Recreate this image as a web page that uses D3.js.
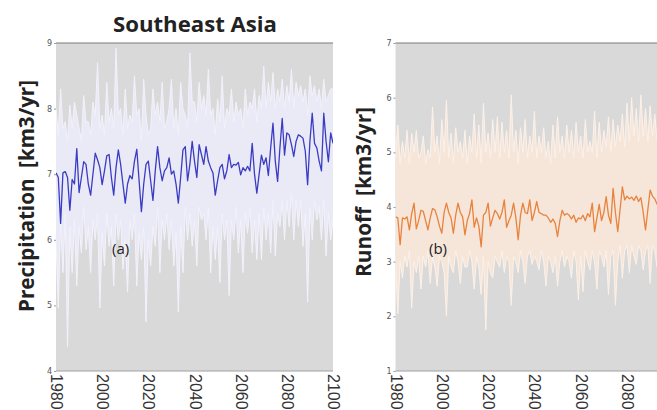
<!DOCTYPE html>
<html>
<head>
<meta charset="utf-8">
<script src="https://cdn.jsdelivr.net/npm/d3@7"></script>
<style>
  body { margin: 0; background: #fff; }
  svg { display: block; }
  text { white-space: pre; }
</style>
</head>
<body>
<div id="chart"></div>
<script>
const years = d3.range(1980, 2101)
const xTicks = [1980, 2000, 2020, 2040, 2060, 2080, 2100]
const precipTicks = [4, 5, 6, 7, 8, 9]
const runoffTicks = [1, 2, 3, 4, 5, 6, 7]

// ensemble mean, yearly 1980-2100
const precipMean = [
  7.02, 6.95, 6.25, 7.02, 7.04, 6.95, 6.45, 6.92, 6.85, 7.39,
  6.72, 6.95, 7.19, 7.15, 6.85, 6.68, 7.0, 7.32, 7.22, 7.1,
  6.84, 7.05, 7.28, 7.3, 6.95, 6.68, 7.1, 7.37, 7.15, 6.85,
  6.56, 6.85, 6.98, 6.93, 7.2, 7.38, 6.9, 6.43, 6.85, 7.15,
  7.2, 6.9, 6.6, 7.05, 7.42, 7.1, 6.9, 7.05, 7.1, 7.25,
  7.0, 7.05, 6.85, 6.56, 6.95, 7.37, 7.42, 6.9, 7.15, 7.5,
  7.2, 6.95, 7.45, 7.3, 7.15, 7.42, 7.2, 7.1, 7.02, 6.68,
  6.9, 7.1, 7.15, 6.93, 7.05, 7.3, 7.1, 7.15, 7.14, 7.18,
  6.99, 7.1, 7.05, 7.12, 7.05, 7.47, 7.0, 6.71, 7.0, 7.29,
  7.15, 7.25, 6.98, 7.4, 7.78, 7.2, 6.89, 7.4, 7.85, 7.29,
  7.63, 7.6, 7.45, 7.27, 7.5, 7.6, 7.58, 7.55, 7.35, 6.84,
  7.5, 7.93, 7.47, 7.4, 7.2, 7.05, 7.93, 7.5, 7.19, 7.63,
  7.47
]
// spread of the ensemble members (upper / lower envelope)
const precipHigh = [
  8.0, 7.6, 8.3, 7.7, 7.8, 7.5, 8.05, 7.7, 8.1, 7.9,
  7.7, 7.5, 8.2, 7.8, 7.8, 7.6, 8.1, 7.9, 8.7, 7.7,
  7.9, 7.6, 8.4, 7.8, 8.0, 7.7, 8.92, 7.9, 8.0, 7.6,
  8.3, 7.7, 7.9, 7.8, 8.5, 7.9, 8.0, 7.5, 8.45, 7.9,
  7.6, 7.7, 8.3, 7.9, 8.1, 7.8, 8.4, 7.7, 7.8, 8.0,
  8.45, 7.7, 8.0, 7.6, 8.4, 8.0, 7.9, 7.7, 8.85, 8.1,
  8.1, 7.8, 8.4, 8.0, 8.2, 7.9, 8.6, 7.9, 8.0, 7.6,
  8.15, 7.8, 8.5, 7.7, 8.0, 7.9, 8.3, 7.8, 8.1, 7.9,
  8.0, 7.7, 8.3, 7.9, 8.1, 8.0, 8.3, 7.8, 8.2, 8.0,
  8.65, 8.0, 8.4, 8.1, 8.55, 8.0, 8.3, 8.1, 8.45, 8.0,
  8.35, 8.1, 8.6, 8.0, 8.4, 8.2, 8.35, 8.1, 8.3, 7.9,
  8.5, 8.2, 8.35, 8.1, 8.3, 8.0, 8.45, 8.1, 8.2, 8.3,
  8.3
]
const precipLow = [
  6.0, 4.96, 6.3, 5.5, 6.4, 4.37, 6.2, 5.5, 6.3, 5.3,
  6.2, 5.8, 6.5, 5.85, 6.2, 5.5, 6.3, 6.0, 6.4, 4.96,
  6.1, 5.6, 6.4, 5.9, 6.2, 5.3, 6.4, 6.0, 6.3, 5.55,
  6.0, 5.2, 6.3, 6.0, 6.4, 5.3, 6.1, 5.7, 6.2, 4.75,
  6.0, 5.6, 6.2, 5.9, 6.5, 5.5, 6.3, 6.0, 6.4, 5.85,
  6.3, 5.6, 6.1, 4.9, 6.2, 5.5, 6.5, 6.0, 6.4, 5.9,
  6.3, 5.6, 6.5, 6.3, 6.4, 6.0, 6.5, 5.5, 6.2, 5.7,
  6.2, 5.35, 6.4, 6.0, 6.3, 5.15, 6.3, 6.0, 6.5, 5.8,
  6.3, 5.5, 6.4, 6.1, 6.5, 5.8, 6.3, 5.7, 6.4, 5.7,
  6.5, 6.0, 6.4, 5.8, 6.6, 5.75, 6.4, 6.2, 6.6, 6.0,
  6.6, 6.2, 6.7, 6.0, 6.6, 6.2, 6.6, 5.9, 6.4, 5.05,
  6.5, 6.0, 6.6, 6.3, 6.5, 6.0, 6.6, 5.75, 6.4, 6.0,
  6.3
]

const runoffMean = [
  3.82, 3.8, 3.31, 3.8, 3.78, 3.82, 3.58, 3.88, 4.07, 3.6,
  3.75, 3.94, 3.92, 3.75, 3.58, 3.8, 3.97, 3.95, 3.82, 3.65,
  3.52, 3.9, 4.07, 3.9, 3.8, 3.52, 3.85, 4.07, 3.9, 3.82,
  3.49, 3.75, 3.88, 4.13, 3.63, 3.8, 3.65, 3.27, 3.85, 3.9,
  4.07, 3.65, 3.8, 3.94, 3.88, 3.78, 3.9, 4.13, 3.63, 3.75,
  3.85, 4.07, 3.8, 3.4, 3.85, 4.07, 3.9, 3.88, 4.13, 3.75,
  3.9, 4.1, 3.9, 3.88, 3.85, 3.85, 3.8, 3.72, 3.78, 3.7,
  3.46, 3.75, 3.94, 3.85, 3.88, 3.85, 3.78, 3.85, 3.72, 3.8,
  3.78, 3.85, 3.75, 3.88, 3.82, 4.07, 3.55, 3.8, 4.05, 3.75,
  3.9, 4.19, 3.85, 3.7, 4.34, 3.9, 3.55, 3.95, 4.37, 4.13,
  4.2, 4.15, 4.18, 4.12, 4.2, 4.1, 4.17, 3.9, 3.58, 3.95,
  4.31, 4.2, 4.15, 4.05, 4.2, 3.9, 4.1, 4.15, 3.95, 4.1,
  4.05
]
const runoffHigh = [
  4.9, 5.5, 4.8, 5.2, 4.9, 5.4, 4.8, 5.35, 5.0, 5.4,
  4.9, 5.0, 5.3, 4.8, 5.05, 4.9, 5.83, 5.0, 5.3, 4.8,
  5.6, 5.0, 5.95, 4.9, 5.35, 4.8, 5.45, 5.0, 5.2, 4.9,
  5.4, 4.8, 5.3, 5.0, 5.7, 4.9, 5.5, 4.8, 5.9, 5.0,
  5.35, 4.9, 5.6, 5.0, 5.65, 4.9, 5.55, 5.0, 5.4, 4.9,
  6.05, 5.0, 5.4, 4.8, 5.45, 5.0, 5.6, 4.9, 5.3, 5.0,
  5.75, 4.9, 5.3, 5.0, 5.45, 4.9, 5.2, 4.8, 5.5, 4.9,
  5.65, 5.0, 5.3, 4.9, 5.5, 5.0, 5.4, 4.9, 5.55, 5.0,
  5.3, 4.9, 5.6, 5.0, 5.2, 5.0, 5.75, 4.9, 5.55, 5.0,
  5.4, 5.1, 5.65, 5.0, 5.6, 5.1, 5.5, 5.2, 5.7, 5.1,
  5.9, 5.2, 6.0, 5.3, 5.8, 5.2, 6.05, 5.3, 5.8, 5.2,
  5.85, 5.3, 5.7, 5.2, 5.8, 5.3, 5.9, 5.2, 5.7, 5.3,
  5.6
]
const runoffLow = [
  3.0, 2.05, 3.0, 2.7, 3.1, 2.9, 3.2, 2.15, 3.0, 2.8,
  3.1, 2.5, 3.1, 2.9, 3.2, 2.6, 3.1, 2.9, 2.55, 3.1,
  3.0, 2.8, 2.0, 3.1, 2.9, 2.8, 3.2, 3.0, 2.6, 3.1,
  2.9, 2.9, 3.2, 3.0, 2.5, 3.1, 2.9, 2.4, 3.1, 1.75,
  3.0, 2.8, 2.7, 3.1, 3.0, 2.9, 3.2, 2.8, 3.1, 3.0,
  2.2, 3.1, 3.0, 2.8, 3.2, 3.0, 2.6, 3.1, 3.2, 2.95,
  3.1, 3.0, 2.85, 3.2, 3.0, 2.55, 3.1, 3.0, 2.8, 3.1,
  2.55, 3.0, 3.2, 2.9, 3.1, 3.0, 2.7, 3.2, 3.0, 2.3,
  3.1, 2.45, 3.2, 3.0, 2.85, 3.2, 3.0, 2.5, 3.2, 3.1,
  2.9, 3.2, 2.4, 3.1, 3.2, 2.2, 3.0, 3.3, 2.7, 3.2,
  3.3, 2.8, 3.3, 3.1, 2.95, 3.3, 3.2, 2.85, 3.2, 3.3,
  2.6, 3.3, 3.2, 2.9, 3.3, 3.1, 3.0, 3.3, 3.1, 2.9,
  3.2
]

const width = 657
const height = 410
const plotTop = 43
const plotBottom = 371

const svg = d3.select('#chart')
  .append('svg')
  .attr('width', width)
  .attr('height', height)

const panels = [
  {
    id: 'pa', x0: 56, x1: 333, domain: [4, 9], ticks: precipTicks,
    mean: precipMean, high: precipHigh, low: precipLow,
    fill: '#ebeaf8', edge: '#f3f2fc', line: '#3b3cc4',
    label: 'Precipitation  [km3/yr]', labelX: 34, labelY: 196, labelLen: 232,
    tag: '(a)', tagX: 112
  },
  {
    id: 'pb', x0: 395.5, x1: 673.3, domain: [1, 7], ticks: runoffTicks,
    mean: runoffMean, high: runoffHigh, low: runoffLow,
    fill: '#f8e7da', edge: '#fcf1e9', line: '#e8823c',
    label: 'Runoff  [km3/yr]', labelX: 371, labelY: 192, labelLen: 170,
    tag: '(b)', tagX: 429
  }
]

panels.forEach(p => {
  const x = d3.scaleLinear().domain([1980, 2100]).range([p.x0, p.x1])
  const y = d3.scaleLinear().domain(p.domain).range([plotBottom, plotTop])

  svg.append('clipPath')
    .attr('id', p.id + '-clip')
    .append('rect')
    .attr('x', p.x0)
    .attr('y', plotTop)
    .attr('width', p.x1 - p.x0)
    .attr('height', plotBottom - plotTop)

  const g = svg.append('g')

  g.append('rect')
    .attr('x', p.x0)
    .attr('y', plotTop)
    .attr('width', p.x1 - p.x0)
    .attr('height', plotBottom - plotTop)
    .attr('fill', '#d9d9d9')

  const plot = g.append('g').attr('clip-path', `url(#${p.id}-clip)`)

  const band = d3.area()
    .x((d, i) => x(years[i]))
    .y0((d, i) => y(p.low[i]))
    .y1((d, i) => y(p.high[i]))

  plot.append('path')
    .datum(p.mean)
    .attr('d', band)
    .attr('fill', p.fill)
    .attr('opacity', 0.95)

  ;[p.high, p.low].forEach(arr => {
    plot.append('path')
      .datum(arr)
      .attr('d', d3.line().x((d, i) => x(years[i])).y(d => y(d)))
      .attr('fill', 'none')
      .attr('stroke', p.edge)
      .attr('stroke-width', 1)
  })

  plot.append('path')
    .datum(p.mean)
    .attr('d', d3.line().x((d, i) => x(years[i])).y(d => y(d)))
    .attr('fill', 'none')
    .attr('stroke', p.line)
    .attr('stroke-width', 1.3)
    .attr('stroke-linejoin', 'round')

  // frame lines top and bottom
  ;[plotTop, plotBottom].forEach(yy => {
    g.append('line')
      .attr('x1', p.x0).attr('x2', p.x1)
      .attr('y1', yy).attr('y2', yy)
      .attr('stroke', yy === plotTop ? '#7a7a7a' : '#a0a0a0')
      .attr('stroke-width', 1)
  })

  // y axis
  const yAxis = d3.axisLeft(y).tickValues(p.ticks).tickSize(2).tickPadding(2).tickFormat(d3.format('d'))
  g.append('g')
    .attr('transform', `translate(${p.x0},0)`)
    .call(yAxis)
    .call(a => a.select('.domain').remove())
    .call(a => a.selectAll('line').attr('stroke', '#999'))
    .call(a => a.selectAll('text')
      .attr('font-family', 'DejaVu Sans, sans-serif')
      .attr('font-size', 8)
      .attr('fill', '#555'))

  // x axis, labels turned to read downward; only years that fall inside the picture
  const shown = xTicks.filter(t => x(t) < width - 6)
  const xAxis = d3.axisBottom(x).tickValues(shown).tickSize(0).tickFormat(d3.format('d'))
  g.append('g')
    .attr('transform', `translate(0,${plotBottom})`)
    .call(xAxis)
    .call(a => a.select('.domain').remove())
    .call(a => a.selectAll('text')
      .attr('font-family', 'Liberation Sans, Arial, sans-serif')
      .attr('font-size', 16)
      .attr('fill', '#333')
      .attr('text-anchor', 'start')
      .attr('dy', null)
      .attr('y', 0)
      .attr('transform', 'translate(0,3) rotate(90)')
      .attr('dominant-baseline', 'central'))

  svg.append('text')
    .attr('transform', `translate(${p.labelX},${p.labelY}) rotate(-90)`)
    .attr('text-anchor', 'middle')
    .attr('font-family', 'Open Sans, sans-serif')
    .attr('font-weight', 'bold')
    .attr('font-size', 21)
    .attr('fill', '#222')
    .attr('textLength', p.labelLen)
    .attr('lengthAdjust', 'spacingAndGlyphs')
    .text(p.label)

  svg.append('text')
    .attr('x', p.tagX)
    .attr('y', 254)
    .attr('font-family', 'Open Sans, sans-serif')
    .attr('font-size', 15)
    .attr('fill', '#222')
    .text(p.tag)
})

svg.append('text')
  .attr('x', 195)
  .attr('y', 32)
  .attr('text-anchor', 'middle')
  .attr('font-family', 'Open Sans, sans-serif')
  .attr('font-weight', 'bold')
  .attr('font-size', 22)
  .attr('fill', '#222')
  .attr('textLength', 164)
  .attr('lengthAdjust', 'spacingAndGlyphs')
  .text('Southeast Asia')
</script>
</body>
</html>
